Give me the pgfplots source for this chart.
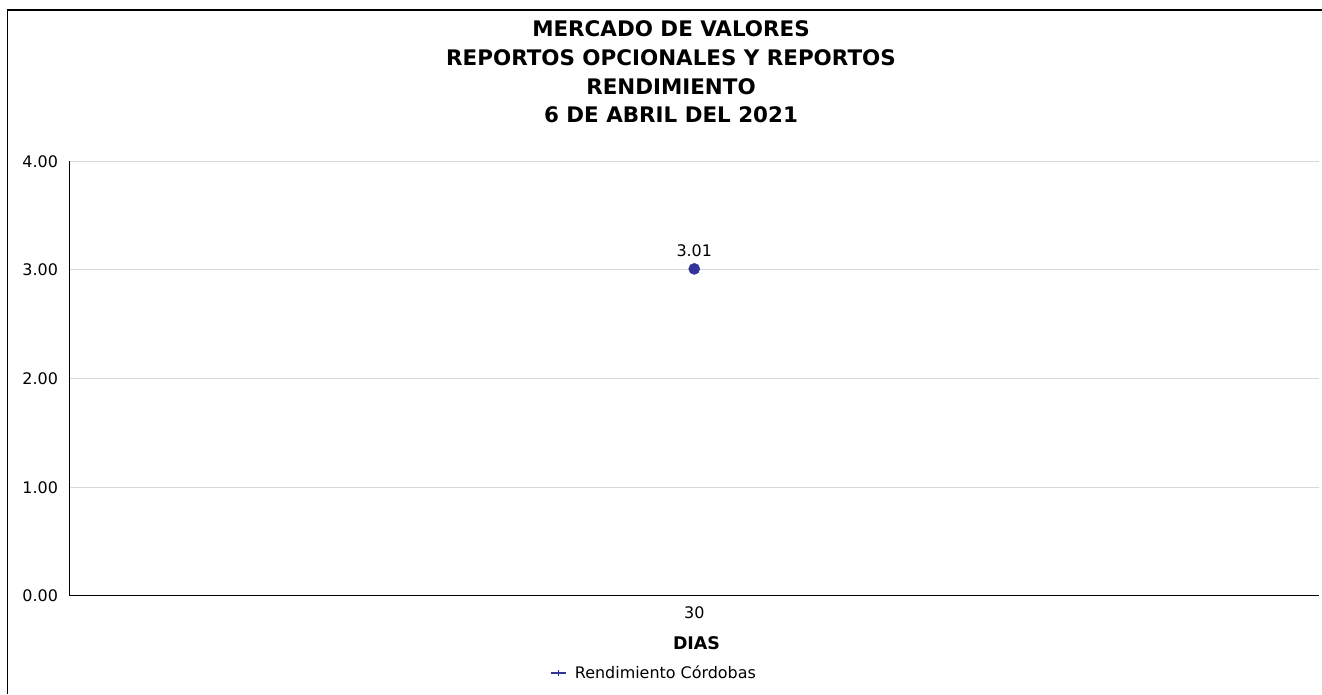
\documentclass[border=0pt]{standalone}
\usepackage{fontspec}
\setmainfont{DejaVu Sans}
\usepackage{pgfplots}
\pgfplotsset{compat=1.18}
\definecolor{markblue}{RGB}{51,51,153}
\definecolor{gridgray}{RGB}{217,217,217}
\begin{document}
\begin{tikzpicture}[x=1bp,y=1bp]
\useasboundingbox (0,0) rectangle (1322,694);
\draw[line width=1.5bp] (7.3,0) -- (7.3,684) -- (1322,684);
\node[align=center, font=\fontsize{21.5}{28.7}\selectfont\bfseries] at (671,622) {MERCADO DE VALORES\\REPORTOS OPCIONALES Y REPORTOS\\RENDIMIENTO\\6 DE ABRIL DEL 2021};
\begin{axis}[
  at={(69.5bp,98bp)}, anchor=south west,
  scale only axis, width=1249.5bp, height=434.7bp,
  xmin=-1, xmax=1, xtick={0}, xticklabels={30},
  ymin=0, ymax=4, ytick={0,1,2,3,4},
  axis lines*=left,
  axis line style={line width=1bp, black},
  ymajorgrids, grid style={draw=gridgray, line width=1bp},
  major tick length=0,
  tick label style={font=\fontsize{16}{19}\selectfont},
  /pgf/number format/assume math mode=true,
  yticklabel style={xshift=-8bp, /pgf/number format/fixed, /pgf/number format/fixed zerofill, /pgf/number format/precision=2},
  xticklabel style={yshift=-7bp},
  xlabel={DIAS},
  xlabel style={font=\fontsize{17.5}{20}\selectfont\bfseries, at={(axis description cs:0.5018,-0.108)}, anchor=center},
  legend style={draw=none, fill=none, at={(axis description cs:0.4678,-0.177)}, anchor=center, font=\fontsize{16}{19}\selectfont},
  legend image code/.code={\path[draw=none, fill=none] (0bp,-4bp) rectangle (22bp,4bp); \draw[markblue, line width=1.5bp] (0bp,0bp) -- (15bp,0bp); \draw[markblue, line width=1bp] (7.5bp,-3bp) -- (7.5bp,3bp);},
  clip=false,
]
\addplot[only marks, mark=*, mark size=5.6bp, color=markblue, mark options={fill=markblue},
  point meta=explicit symbolic, nodes near coords,
  nodes near coords style={font=\fontsize{16}{19}\selectfont, text=black, anchor=center, yshift=18.6bp}]
  coordinates {(0,3.01) [3.01]};
\addlegendentry{Rendimiento Córdobas}
\end{axis}
\end{tikzpicture}
\end{document}
